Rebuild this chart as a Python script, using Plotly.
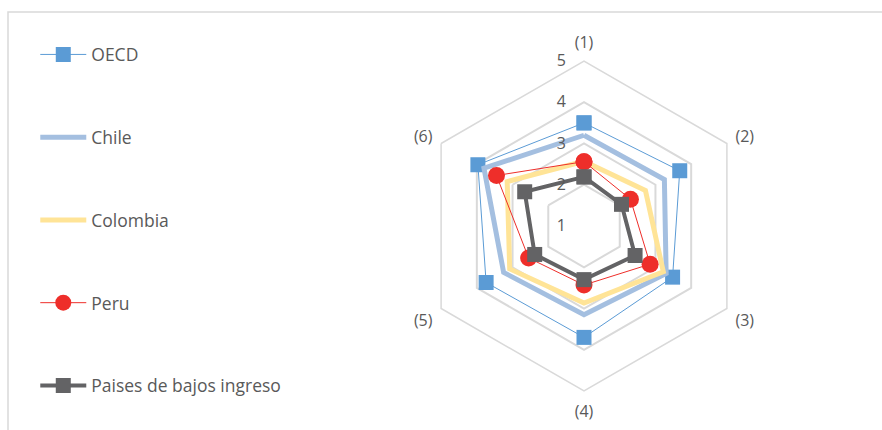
import plotly.graph_objects as go

categories = ["(1)", "(2)", "(3)", "(4)", "(5)", "(6)"]
oecd = [3.5, 3.68, 3.48, 3.7, 3.74, 3.97]
chile = [3.2, 3.25, 3.3, 3.15, 3.25, 3.8]
colombia = [2.57, 2.72, 3.22, 2.87, 3.08, 3.15]
peru = [2.56, 2.3, 2.85, 2.43, 2.55, 3.45]
bajos = [2.19, 2.05, 2.43, 2.3, 2.38, 2.66]
radial_ticks = [1, 2, 3, 4, 5]

W, H = 882, 430
FONT = "Open Sans"
GREY = "#595959"

def closed(v):
    return v + v[:1]

cats = closed(categories)

fig = go.Figure()
fig.add_trace(go.Scatterpolar(
    r=closed(oecd), theta=cats, name="OECD", mode="lines+markers",
    line=dict(color="#5B9BD5", width=1),
    marker=dict(symbol="square", size=15, color="#5B9BD5"),
    legendgroup="a"))
fig.add_trace(go.Scatterpolar(
    r=closed(chile), theta=cats, name="Chile", mode="lines",
    line=dict(color="#A4BFE0", width=5), legendgroup="b"))
fig.add_trace(go.Scatterpolar(
    r=closed(colombia), theta=cats, name="Colombia", mode="lines",
    line=dict(color="#FFE497", width=5), legendgroup="c"))
fig.add_trace(go.Scatterpolar(
    r=closed(peru), theta=cats, name="Peru", mode="lines+markers",
    line=dict(color="#EE2E2A", width=1),
    marker=dict(symbol="circle", size=17, color="#EE2E2A"),
    legendgroup="d"))
fig.add_trace(go.Scatterpolar(
    r=closed(bajos), theta=cats, name="Paises de bajos ingreso", mode="lines+markers",
    line=dict(color="#636365", width=4),
    marker=dict(symbol="square", size=15, color="#636365"),
    legendgroup="e"))

cx, cy, R = 584, 226, 165
fig.update_layout(
    width=W, height=H,
    margin=dict(l=0, r=0, t=0, b=0),
    paper_bgcolor="white",
    font=dict(family=FONT, color=GREY, size=14),
    polar=dict(
        domain=dict(x=[(cx - R) / W, (cx + R) / W], y=[(H - cy - R) / H, (H - cy + R) / H]),
        gridshape="linear",
        bgcolor="white",
        radialaxis=dict(range=[1, 5], tickvals=radial_ticks, angle=90, tickangle=90,
                        showline=False, gridcolor="#D9D9D9", gridwidth=1.5,
                        ticks="outside", ticklen=12, tickcolor="rgba(0,0,0,0)",
                        side="counterclockwise",
                        tickfont=dict(size=16, color=GREY, family=FONT)),
        angularaxis=dict(direction="clockwise", rotation=90, showgrid=False,
                         linecolor="#D9D9D9", linewidth=1.5,
                         ticks="outside", ticklen=6, tickcolor="rgba(0,0,0,0)",
                         tickfont=dict(size=16, color=GREY, family=FONT)),
    ),
    legend=dict(x=0.04, y=0.915, xanchor="left", yanchor="top",
                font=dict(size=17.5, color=GREY, family=FONT),
                itemwidth=46,
                tracegroupgap=57, bgcolor="rgba(0,0,0,0)"),
    showlegend=True,
)
fig.add_shape(type="rect", xref="paper", yref="paper",
              x0=8 / W, x1=1.2, y0=-0.2, y1=1 - 12 / H,
              line=dict(color="#D9D9D9", width=1.5), fillcolor="rgba(0,0,0,0)")

fig.write_html("out.html", config={"displayModeBar": False},
               post_script="document.body.style.margin='0';")
